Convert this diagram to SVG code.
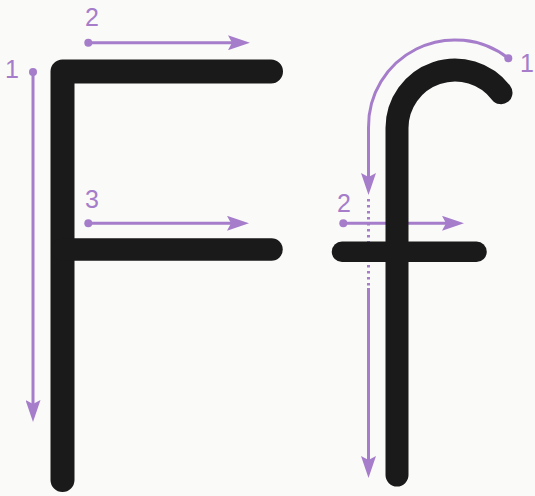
<svg xmlns="http://www.w3.org/2000/svg" width="535" height="496" viewBox="0 0 535 496">
  <style>
    .ink { fill: none; stroke: #1b1a1b; stroke-linecap: round; stroke-linejoin: round; }
    .guide { fill: none; stroke: #a57dca; stroke-width: 3; }
    .dot { fill: #a57dca; }
    .num { fill: #a57dca; font-family: "Liberation Sans", Arial, sans-serif; font-size: 25px; text-anchor: middle; }
  </style>
  <defs>
    <marker id="arrow" viewBox="0 0 22 15" refX="10" refY="7.5" markerWidth="22" markerHeight="15" markerUnits="userSpaceOnUse" orient="auto">
      <path d="M0,0 L22,7.5 L0,15 L4,7.5 Z" fill="#a57dca"/>
    </marker>
  </defs>
  <rect width="535" height="496" fill="#fafaf8"/>

  <g id="connectors">
    <g id="F-stroke-1">
      <circle class="dot" cx="33" cy="72" r="4"/>
      <path class="guide" d="M33,72 L33,410" marker-end="url(#arrow)"/>
      <text class="num" x="12" y="78">1</text>
    </g>
    <g id="F-stroke-2">
      <circle class="dot" cx="88.3" cy="42.7" r="4"/>
      <path class="guide" d="M88.3,42.7 L238,42.7" marker-end="url(#arrow)"/>
      <text class="num" x="92" y="26">2</text>
    </g>
    <g id="F-stroke-3">
      <circle class="dot" cx="88.3" cy="223.3" r="4"/>
      <path class="guide" d="M88.3,223.3 L237,223.3" marker-end="url(#arrow)"/>
      <text class="num" x="92" y="208">3</text>
    </g>
    <g id="f-stroke-1">
      <circle class="dot" cx="508.3" cy="58.3" r="4"/>
      <path class="guide" d="M508.3,58.3 A86.5,86.5 0 0 0 368.5,128 L368.5,183" marker-end="url(#arrow)"/>
      <path class="guide" d="M368.5,199 L368.5,288" stroke-dasharray="2.5 3.5"/>
      <path class="guide" d="M368.5,288 L368.5,466" marker-end="url(#arrow)"/>
      <text class="num" x="527" y="72">1</text>
    </g>
    <g id="f-stroke-2">
      <circle class="dot" cx="343.3" cy="223.3" r="4"/>
      <path class="guide" d="M343.3,223.3 L452,223.3" marker-end="url(#arrow)"/>
      <text class="num" x="344" y="212">2</text>
    </g>
  </g>

  <g id="letter-F">
    <path class="ink" stroke-width="24" d="M62.5,480 L62.5,71.5 L271,71.5"/>
    <path class="ink" stroke-width="22.5" d="M62.5,249.5 L271.5,249.5"/>
  </g>

  <g id="letter-f">
    <path class="ink" stroke-width="23" d="M397,475 L397,128 A58,58 0 0 1 501,92.7"/>
    <path class="ink" stroke-width="20.5" d="M342,251.7 L476.5,251.7"/>
  </g>
</svg>
